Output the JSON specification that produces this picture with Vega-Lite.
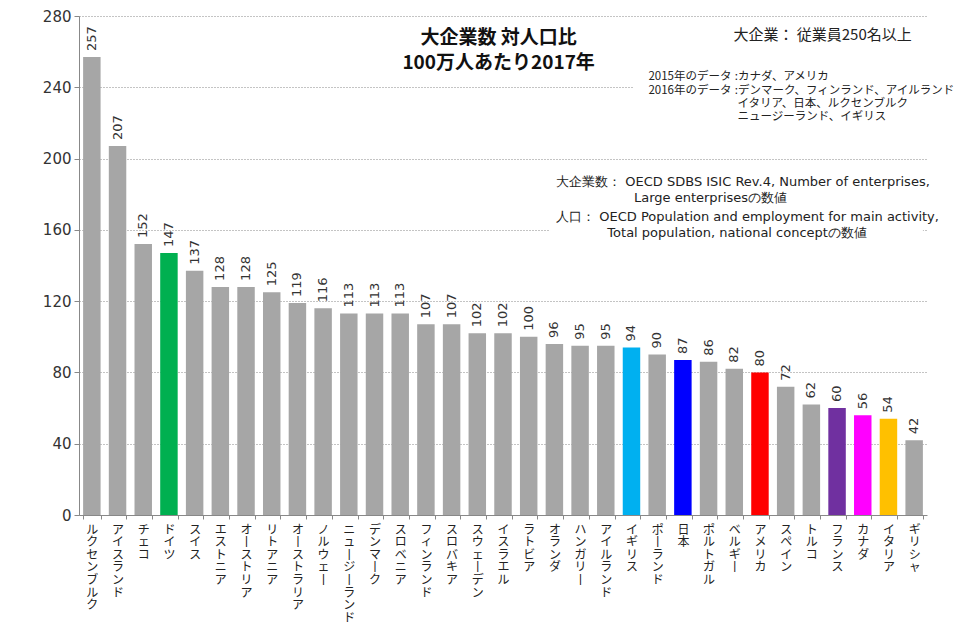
{
  "$schema": "https://vega.github.io/schema/vega-lite/v6.json",
  "width": 848,
  "height": 499,
  "autosize": {"type": "none"},
  "padding": {"left": 79, "top": 16, "right": 51, "bottom": 124},
  "background": "white",
  "data": {
    "values": [
      {"country": "ルクセンブルク", "value": 257},
      {"country": "アイスランド", "value": 207},
      {"country": "チェコ", "value": 152},
      {"country": "ドイツ", "value": 147},
      {"country": "スイス", "value": 137},
      {"country": "エストニア", "value": 128},
      {"country": "オーストリア", "value": 128},
      {"country": "リトアニア", "value": 125},
      {"country": "オーストラリア", "value": 119},
      {"country": "ノルウェー", "value": 116},
      {"country": "ニュージーランド", "value": 113},
      {"country": "デンマーク", "value": 113},
      {"country": "スロベニア", "value": 113},
      {"country": "フィンランド", "value": 107},
      {"country": "スロバキア", "value": 107},
      {"country": "スウェーデン", "value": 102},
      {"country": "イスラエル", "value": 102},
      {"country": "ラトビア", "value": 100},
      {"country": "オランダ", "value": 96},
      {"country": "ハンガリー", "value": 95},
      {"country": "アイルランド", "value": 95},
      {"country": "イギリス", "value": 94},
      {"country": "ポーランド", "value": 90},
      {"country": "日本", "value": 87},
      {"country": "ポルトガル", "value": 86},
      {"country": "ベルギー", "value": 82},
      {"country": "アメリカ", "value": 80},
      {"country": "スペイン", "value": 72},
      {"country": "トルコ", "value": 62},
      {"country": "フランス", "value": 60},
      {"country": "カナダ", "value": 56},
      {"country": "イタリア", "value": 54},
      {"country": "ギリシャ", "value": 42}
    ]
  },
  "layer": [
    {
      "mark": {"type": "bar"},
      "encoding": {
        "x": {
          "field": "country",
          "type": "nominal",
          "sort": null,
          "title": null,
          "scale": {"paddingInner": 0.32, "paddingOuter": 0.16},
          "axis": {
            "labelExpr": "split(replace(datum.label, regexp('ー', 'g'), '丨'), '')",
            "labelAngle": 0,
            "labelAlign": "center",
            "labelBaseline": "top",
            "labelFont": "Noto Sans CJK JP",
            "labelFontSize": 12,
            "labelLineHeight": 12.6,
            "labelColor": "#222",
            "labelPadding": 5,
            "labelOverlap": false,
            "tickBand": "extent",
            "tickSize": 4,
            "tickColor": "#888",
            "domainColor": "#888",
            "grid": false
          }
        },
        "y": {
          "field": "value",
          "type": "quantitative",
          "title": "企業数 [社]",
          "scale": {"domain": [0, 280], "nice": false},
          "axis": {
            "values": [0, 40, 80, 120, 160, 200, 240, 280],
            "grid": true,
            "gridColor": "#888",
            "gridDash": [1, 2],
            "domainColor": "#888",
            "tickColor": "#888",
            "tickSize": 5,
            "labelFont": "DejaVu Sans",
            "labelFontSize": 15,
            "labelColor": "#333",
            "labelPadding": 3,
            "titleFont": "Noto Sans CJK JP",
            "titleFontSize": 12,
            "titleFontWeight": "normal",
            "titleColor": "#222",
            "titlePadding": 8
          }
        },
        "color": {
          "condition": [
            {"test": "datum.country === 'ドイツ'", "value": "#00B050"},
            {"test": "datum.country === 'イギリス'", "value": "#00B0F0"},
            {"test": "datum.country === '日本'", "value": "#0000FF"},
            {"test": "datum.country === 'アメリカ'", "value": "#FF0000"},
            {"test": "datum.country === 'フランス'", "value": "#7030A0"},
            {"test": "datum.country === 'カナダ'", "value": "#FF00FF"},
            {"test": "datum.country === 'イタリア'", "value": "#FFC000"}
          ],
          "value": "#A6A6A6"
        }
      }
    },
    {
      "mark": {"type": "text", "angle": 270, "align": "left", "baseline": "middle", "dx": 6, "font": "DejaVu Sans", "fontSize": 13, "color": "#333"},
      "encoding": {
        "x": {"field": "country", "type": "nominal", "sort": null, "title": null},
        "y": {"field": "value", "type": "quantitative", "title": null},
        "text": {"field": "value", "type": "quantitative"}
      }
    },
    {
      "data": {"values": [{}]},
      "mark": {"type": "rect", "color": "white"},
      "encoding": {
        "x": {"datum": "イギリス", "type": "nominal", "bandPosition": 0.64, "title": null},
        "x2": {"datum": "ギリシャ", "bandPosition": 1},
        "y": {"datum": 218.9, "type": "quantitative", "title": null},
        "y2": {"datum": 250.8}
      }
    },
    {
      "data": {"values": [{}]},
      "mark": {"type": "rect", "color": "white"},
      "encoding": {
        "x": {"datum": "オランダ", "type": "nominal", "bandPosition": 0.25, "title": null},
        "x2": {"datum": "ギリシャ", "bandPosition": 1},
        "y": {"datum": 151.5, "type": "quantitative", "title": null},
        "y2": {"datum": 192.5}
      }
    },
    {
      "data": {"values": [{}]},
      "mark": {"type": "text", "align": "center", "baseline": "middle", "font": "Noto Sans CJK JP", "fontSize": 19, "fontWeight": "bold", "lineHeight": 25, "color": "#111"},
      "encoding": {
        "x": {"datum": "イスラエル", "type": "nominal", "bandPosition": 0.25, "title": null},
        "y": {"datum": 267.9, "type": "quantitative", "title": null},
        "text": {"value": ["大企業数 対人口比", "100万人あたり2017年"]}
      }
    },
    {
      "data": {"values": [{}]},
      "mark": {"type": "text", "align": "left", "baseline": "middle", "font": "Noto Sans CJK JP", "fontSize": 15, "color": "#222"},
      "encoding": {
        "x": {"datum": "ベルギー", "type": "nominal", "bandPosition": 0.45, "title": null},
        "y": {"datum": 269.6, "type": "quantitative", "title": null},
        "text": {"value": "大企業： 従業員250名以上"}
      }
    },
    {
      "data": {"values": [{}]},
      "mark": {"type": "text", "align": "left", "baseline": "middle", "font": "Noto Sans CJK JP", "fontSize": 11.5, "lineHeight": 14, "color": "#222"},
      "encoding": {
        "x": {"datum": "ポーランド", "type": "nominal", "bandPosition": 0, "title": null},
        "y": {"datum": 245.8, "type": "quantitative", "title": null},
        "text": {"value": ["2015年のデータ", "2016年のデータ"]}
      }
    },
    {
      "data": {"values": [{}]},
      "mark": {"type": "text", "align": "left", "baseline": "middle", "font": "Noto Sans CJK JP", "fontSize": 11.5, "lineHeight": 14, "color": "#222"},
      "encoding": {
        "x": {"datum": "ベルギー", "type": "nominal", "bandPosition": 0.53, "title": null},
        "y": {"datum": 245.8, "type": "quantitative", "title": null},
        "text": {"value": [":カナダ、アメリカ", ":デンマーク、フィンランド、アイルランド"]}
      }
    },
    {
      "data": {"values": [{}]},
      "mark": {"type": "text", "align": "left", "baseline": "middle", "font": "Noto Sans CJK JP", "fontSize": 11.5, "lineHeight": 13, "color": "#222"},
      "encoding": {
        "x": {"datum": "ベルギー", "type": "nominal", "bandPosition": 0.68, "title": null},
        "y": {"datum": 230.5, "type": "quantitative", "title": null},
        "text": {"value": ["イタリア、日本、ルクセンブルク", "ニュージーランド、イギリス"]}
      }
    },
    {
      "data": {"values": [{}]},
      "mark": {"type": "text", "align": "left", "baseline": "middle", "font": "DejaVu Sans", "fontSize": 13, "lineHeight": 35, "color": "#222"},
      "encoding": {
        "x": {"datum": "オランダ", "type": "nominal", "bandPosition": 0.6, "title": null},
        "y": {"datum": 186.9, "type": "quantitative", "title": null},
        "text": {"value": ["大企業数： OECD SDBS ISIC Rev.4, Number of enterprises,", "人口： OECD Population and employment for main activity,"]}
      }
    },
    {
      "data": {"values": [{}]},
      "mark": {"type": "text", "align": "left", "baseline": "middle", "font": "DejaVu Sans", "fontSize": 13, "color": "#222"},
      "encoding": {
        "x": {"datum": "イギリス", "type": "nominal", "bandPosition": 0.64, "title": null},
        "y": {"datum": 177.9, "type": "quantitative", "title": null},
        "text": {"value": "Large enterprisesの数値"}
      }
    },
    {
      "data": {"values": [{}]},
      "mark": {"type": "text", "align": "left", "baseline": "middle", "font": "DejaVu Sans", "fontSize": 13, "color": "#222"},
      "encoding": {
        "x": {"datum": "アイルランド", "type": "nominal", "bandPosition": 0.59, "title": null},
        "y": {"datum": 158.2, "type": "quantitative", "title": null},
        "text": {"value": "Total population, national conceptの数値"}
      }
    }
  ],
  "config": {
    "view": {"stroke": null}
  }
}
